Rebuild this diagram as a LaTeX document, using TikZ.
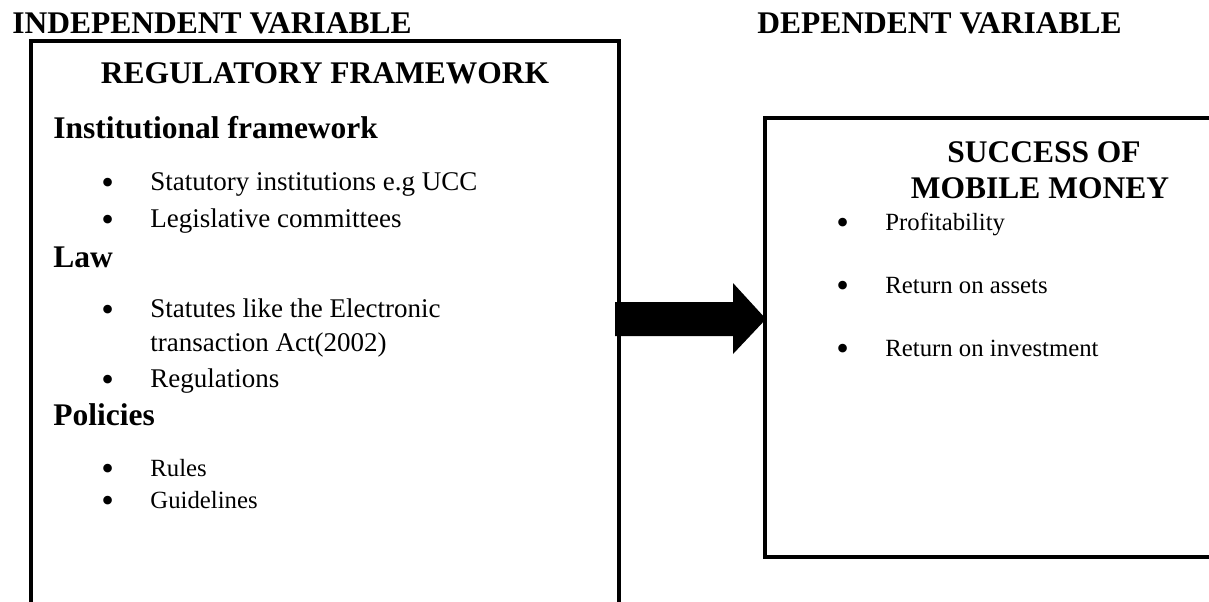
\documentclass[tikz,border=0pt]{standalone}
\usepackage{fontspec}
\setmainfont{Liberation Serif}[BoldFont={Liberation Serif Bold}]
\usetikzlibrary{positioning}

\newcommand{\bul}{\llap{\makebox[0pt]{\smash{\raisebox{-2pt}{\fontsize{16}{16}\selectfont\textbullet}}}\hspace{19pt}}}
\tikzset{
  heading/.style={font=\fontsize{14}{16}\selectfont\bfseries, anchor=base west, inner sep=0pt},
  entry/.style={font=\fontsize{12}{14}\selectfont, anchor=base west, inner sep=0pt},
  smallentry/.style={font=\fontsize{11}{13}\selectfont, anchor=base west, inner sep=0pt},
  frame/.style={line width=2.2pt}
}

\begin{document}
\begin{tikzpicture}[x=0.01563cm, y=-0.01563cm]
        \useasboundingbox (0,0) rectangle (1209,601);
        \node[heading] (indep) at (12,33) {INDEPENDENT VARIABLE};
        \node[heading] (dep) at (757,33) {DEPENDENT VARIABLE};
        % left box, open at the bottom
        \coordinate (regBL) at (31,610);
        \coordinate (regBR) at (619,610);
        \coordinate (regR) at (619,319);
        \draw[frame] (regBL) |- (619,41) -- (regBR);
        \node[heading, anchor=base] (reg) at (325,83) {REGULATORY FRAMEWORK};
        \node[heading] (inst) at (53,138) {Institutional framework};
        \node[entry] (stat) at (150,190) {\bul Statutory institutions e.g UCC};
        \node[entry] (legis) at (150,227) {\bul Legislative committees};
        \node[heading] (law) at (53,267) {Law};
        \node[entry] (statutes) at (150,317) {\bul Statutes like the Electronic};
        \node[entry] (act) at (150,351) {transaction Act(2002)};
        \node[entry] (regul) at (150,387) {\bul Regulations};
        \node[heading] (pol) at (53,425) {Policies};
        \node[smallentry] (rules) at (150,476) {\bul Rules};
        \node[smallentry] (guide) at (150,508) {\bul Guidelines};
        % right box, open at the right
        \coordinate (succL) at (766,319);
        \draw[frame] (1215,557) -| (765,118) -- (1215,118);
        \node[heading, anchor=base] (succ) at (1044,162) {SUCCESS OF};
        \node[heading, anchor=base] (mobile) at (1040,198) {MOBILE MONEY};
        \node[smallentry] (profit) at (885,230) {\bul Profitability};
        \node[smallentry] (roa) at (885,293) {\bul Return on assets};
        \node[smallentry] (roi) at (885,356) {\bul Return on investment};
        % block arrow
        \fill (regR) ++(-4,-17) -- ++(118,0) -- ++(0,-19) -- (succL)
                -- ++(-33,35) -- ++(0,-18) -- ++(-118,0) -- cycle;
\end{tikzpicture}
\end{document}
